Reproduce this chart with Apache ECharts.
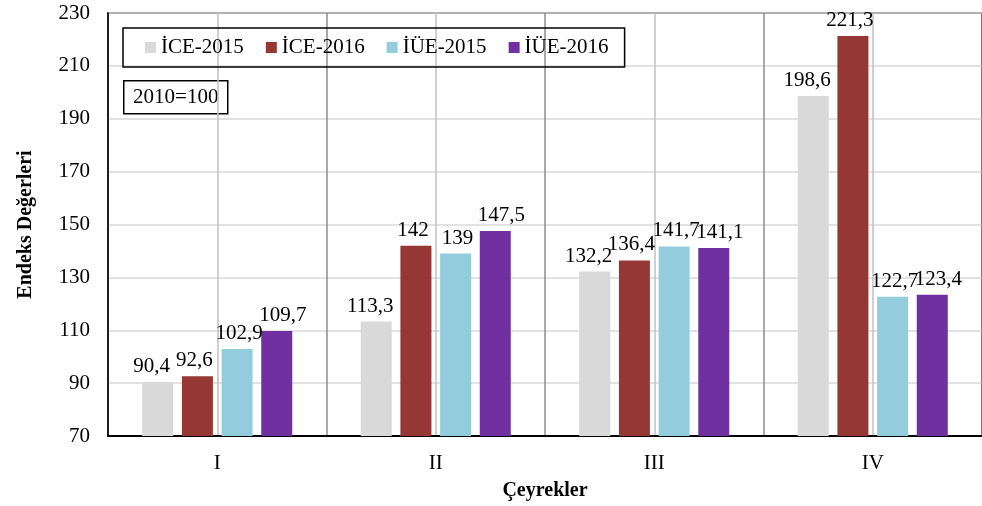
<!DOCTYPE html>
<html>
<head>
<meta charset="utf-8">
<script src="https://cdn.jsdelivr.net/npm/echarts@6/dist/echarts.min.js"></script>
<style>
  html, body { margin: 0; padding: 0; background: #fff; }
  #chart { width: 982px; height: 506px; }
</style>
</head>
<body>
<div id="chart"></div>
<script>
// quarters
const quarters = ['I', 'II', 'III', 'IV'];
const seriesNames = ['İCE-2015', 'İCE-2016', 'İÜE-2015', 'İÜE-2016'];
const ice2015 = [90.4, 113.3, 132.2, 198.6];
const ice2016 = [92.6, 142, 136.4, 221.3];
const iue2015 = [102.9, 139, 141.7, 122.7];
const iue2016 = [109.7, 147.5, 141.1, 123.4];
const colors = ['#d9d9d9', '#953735', '#93cddd', '#7030a0'];

const font = 'Liberation Serif';
const chart = echarts.init(document.getElementById('chart'));

// labels in the original are pushed a little outwards from the group centre
const labelShift = [-6, -3, 2, 6];

const makeBar = (name, data, i) => ({
  name: name,
  type: 'bar',
  xAxisIndex: 0,
  data: data,
  barWidth: 31,
  barGap: '28%',
  itemStyle: { color: colors[i] },
  label: {
    show: true,
    position: 'top',
    distance: 5,
    offset: [labelShift[i], 0],
    fontFamily: font,
    fontSize: 21,
    color: '#000',
    formatter: p => String(p.value).replace('.', ',')
  }
});

chart.setOption({
  animation: false,
  backgroundColor: '#fff',
  textStyle: { fontFamily: font },
  grid: {
    left: 108, right: 0, top: 13, bottom: 68,
    show: true, borderColor: '#000', borderWidth: 1.5
  },
  legend: {
    data: seriesNames,
    left: 123, top: 28,
    padding: [9, 16, 9, 22],
    itemWidth: 11, itemHeight: 11, itemGap: 22,
    borderColor: '#000', borderWidth: 1.5,
    icon: 'rect',
    textStyle: { fontFamily: font, fontSize: 21, color: '#000' }
  },
  graphic: [{
    type: 'group', left: 123, top: 80,
    children: [
      { type: 'rect', shape: { x: 0, y: 0, width: 104, height: 33 },
        style: { fill: '#fff', stroke: '#000', lineWidth: 1.5 } },
      { type: 'text', x: 52, y: 17,
        style: { text: '2010=100', fontFamily: font, fontSize: 21, fill: '#000', align: 'center', verticalAlign: 'middle' } }
    ]
  }],
  xAxis: [{
    type: 'category',
    data: quarters,
    name: 'Çeyrekler',
    nameLocation: 'middle',
    nameGap: 45,
    nameTextStyle: { fontFamily: font, fontSize: 20, fontWeight: 'bold', color: '#000' },
    axisLine: { lineStyle: { color: '#000', width: 2 } },
    axisTick: { show: false },
    axisLabel: { fontFamily: font, fontSize: 21, color: '#000', margin: 17 },
    splitLine: { show: false }
  }, {
    type: 'value',
    min: 0, max: 8, interval: 1,
    position: 'bottom',
    axisLine: { show: false },
    axisTick: { show: false },
    axisLabel: { show: false },
    splitLine: { show: true, lineStyle: { color: ['#8c8c8c', '#c0c0c0'], width: 1.5 } }
  }],
  yAxis: {
    type: 'value',
    min: 70, max: 230, interval: 20,
    name: 'Endeks Değerleri',
    nameLocation: 'middle',
    nameGap: 72,
    nameTextStyle: { fontFamily: font, fontSize: 20, fontWeight: 'bold', color: '#000' },
    axisLine: { show: true, lineStyle: { color: '#000', width: 1.5 } },
    axisTick: { show: false },
    axisLabel: { fontFamily: font, fontSize: 21, color: '#000', margin: 18 },
    splitLine: { lineStyle: { color: '#d9d9d9', width: 1.5 } }
  },
  series: [
    makeBar(seriesNames[0], ice2015, 0),
    makeBar(seriesNames[1], ice2016, 1),
    makeBar(seriesNames[2], iue2015, 2),
    makeBar(seriesNames[3], iue2016, 3)
  ]
});
</script>
</body>
</html>
